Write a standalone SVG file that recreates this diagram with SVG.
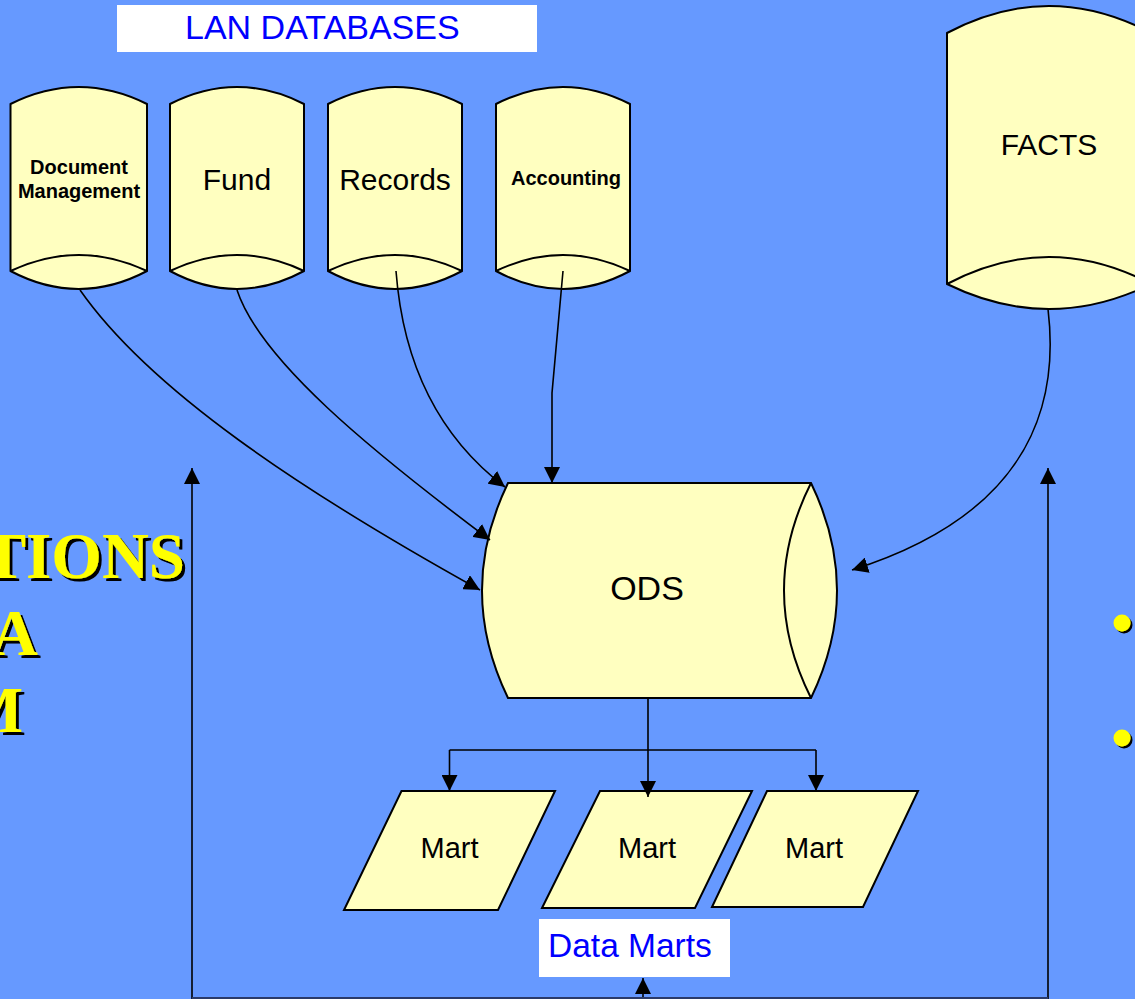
<svg xmlns="http://www.w3.org/2000/svg" width="1135" height="999" viewBox="0 0 1135 999">
<defs>
<marker id="arr" viewBox="0 0 16 16" refX="16" refY="8" markerWidth="16" markerHeight="16" markerUnits="userSpaceOnUse" orient="auto">
<path d="M0,0 L16,8 L0,16 Z" fill="#000"/>
</marker>
<filter id="shadow" x="-20%" y="-20%" width="140%" height="140%">
<feDropShadow dx="3" dy="3" stdDeviation="0.4" flood-color="#000" flood-opacity="1"/>
</filter>
<filter id="shadow2" x="-50%" y="-50%" width="200%" height="200%">
<feDropShadow dx="2" dy="2" stdDeviation="0.4" flood-color="#000" flood-opacity="1"/>
</filter>
<style>
.shape{fill:#FFFFC0;stroke:#000;stroke-width:2}
.edge{fill:none;stroke:#000;stroke-width:1.6;marker-end:url(#arr)}
.lbl{font-family:"Liberation Sans",Arial,sans-serif;fill:#000;text-anchor:middle}
.big{font-size:30px}
.bold{font-size:20px;font-weight:bold}
.title{font-family:"Liberation Serif","Times New Roman",serif;font-weight:bold;font-size:65px;text-anchor:end;fill:#FFFF00;filter:url(#shadow)}
.blue{font-family:"Liberation Sans",Arial,sans-serif;fill:#0000FF}
</style>
</defs>
<rect x="0" y="0" width="1135" height="999" fill="#6699FF"/>

<g id="left-title">
<text class="title" x="185" y="578">TIONS</text>
<text class="title" x="38" y="655">A</text>
<text class="title" x="23" y="732">M</text>
</g>

<g id="bullets" filter="url(#shadow2)">
<circle cx="1122" cy="623" r="8.5" fill="#FFFF00"/>
<circle cx="1122" cy="738" r="8.5" fill="#FFFF00"/>
</g>

<g id="lan-title">
<rect x="117" y="5" width="420" height="47" fill="#FFFFFF"/>
<text class="blue" x="185" y="39" font-size="34">LAN DATABASES</text>
</g>

<g id="doc-mgmt">
<path class="shape" d="M10.5,104 Q78.75,70 147,104 L147,271 Q78.75,307 10.5,271 Z"/>
<path class="shape" d="M10.5,271 Q78.75,239 147,271" fill="none"/>
<text class="lbl bold" x="79" y="174">Document</text>
<text class="lbl bold" x="79" y="198">Management</text>
</g>

<g id="fund">
<path class="shape" d="M170,104 Q237,70 304,104 L304,271 Q237,307 170,271 Z"/>
<path class="shape" d="M170,271 Q237,239 304,271" fill="none"/>
<text class="lbl big" x="237" y="190">Fund</text>
</g>

<g id="records">
<path class="shape" d="M328,104 Q395,70 462,104 L462,271 Q395,307 328,271 Z"/>
<path class="shape" d="M328,271 Q395,239 462,271" fill="none"/>
<text class="lbl big" x="395" y="190">Records</text>
</g>

<g id="accounting">
<path class="shape" d="M496,104 Q563,70 630,104 L630,271 Q563,307 496,271 Z"/>
<path class="shape" d="M496,271 Q563,239 630,271" fill="none"/>
<text class="lbl bold" x="566" y="185">Accounting</text>
</g>

<g id="facts">
<path class="shape" d="M947,33 Q1049,-21 1151,33 L1151,284 Q1049,334 947,284 Z"/>
<path class="shape" d="M947,284 Q1049,230 1151,284" fill="none"/>
<text class="lbl big" x="1049" y="155">FACTS</text>
</g>

<g id="ods">
<path class="shape" d="M508,483 L811,483 Q863,590.5 811,698 L508,698 Q456,590.5 508,483 Z"/>
<path class="shape" d="M811,483 Q757,590.5 811,698" fill="none"/>
<text class="lbl" x="647" y="600" font-size="34">ODS</text>
</g>

<g id="mart1">
<path class="shape" d="M401.5,791 L555,791 L498,910 L344,910 Z"/>
<text class="lbl" x="449.5" y="858" font-size="29">Mart</text>
</g>
<g id="mart2">
<path class="shape" d="M600,791 L752,791 L695,908 L542,908 Z"/>
<text class="lbl" x="647" y="858" font-size="29">Mart</text>
</g>
<g id="mart3">
<path class="shape" d="M767,791 L918,791 L863,907 L712,907 Z"/>
<text class="lbl" x="814" y="858" font-size="29">Mart</text>
</g>

<g id="data-marts">
<rect x="539" y="919" width="191" height="58" fill="#FFFFFF"/>
<text class="blue" x="548" y="957" font-size="33.5">Data Marts</text>
</g>

<g id="connectors">
<path class="edge" d="M80,290 C150,390 300,490 480,590"/>
<path class="edge" d="M237,290 C260,360 370,450 490,540"/>
<path class="edge" d="M396,271 C402,350 430,430 505,487"/>
<path class="edge" d="M563,271 L552,393 L552,483"/>
<path class="edge" d="M1048,309 C1062,425 1010,520 852,570"/>
<path d="M648,698 L648,750 M449.5,750 L816,750" fill="none" stroke="#000" stroke-width="1.6"/>
<path class="edge" d="M449.5,750 L449.5,791"/>
<path class="edge" d="M648,750 L648,797"/>
<path class="edge" d="M816,750 L816,791"/>
<path class="edge" d="M192,999 L192,468"/>
<path class="edge" d="M1048,999 L1048,468"/>
<path class="edge" d="M643,999 L643,978"/>
<path d="M192,998 L1048,998" fill="none" stroke="#2a3a6a" stroke-width="2"/>
</g>
</svg>
